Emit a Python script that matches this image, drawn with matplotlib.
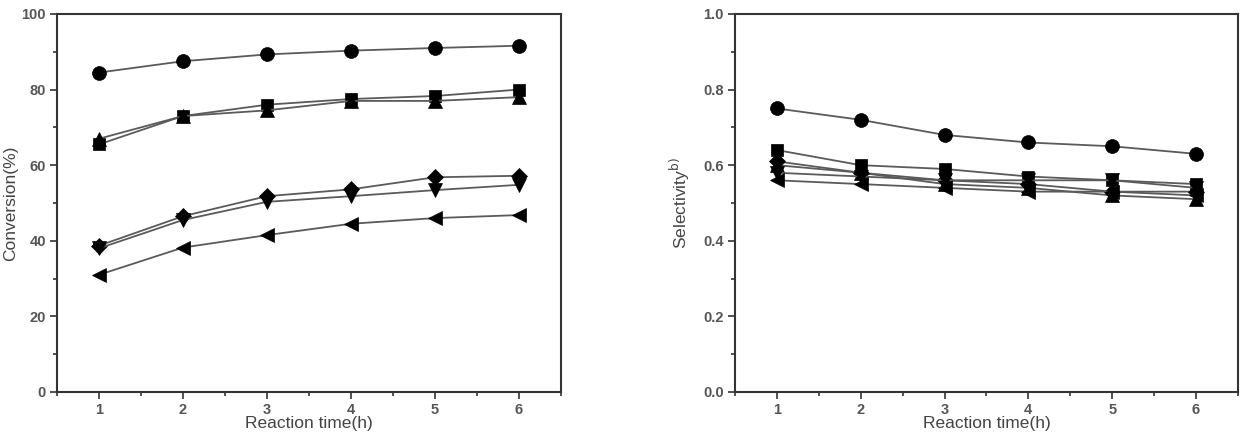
import matplotlib
matplotlib.use("Agg")
import matplotlib.pyplot as plt
from matplotlib.ticker import MultipleLocator

plt.rcParams["font.family"] = ["Liberation Sans", "DejaVu Sans"]

# Reaction time (h)
time_h = [1, 2, 3, 4, 5, 6]

# Conversion (%) per catalyst
conv_circle = [84.5, 87.5, 89.3, 90.3, 91.0, 91.6]
conv_square = [65.5, 73.0, 76.0, 77.5, 78.3, 80.0]
conv_up = [67.0, 73.0, 74.5, 77.0, 77.0, 78.0]
conv_diamond = [38.7, 46.5, 51.8, 53.6, 56.8, 57.2]
conv_down = [38.0, 45.5, 50.3, 51.8, 53.4, 54.8]
conv_left = [31.0, 38.2, 41.5, 44.5, 46.0, 46.8]

# Selectivity per catalyst
sel_circle = [0.75, 0.72, 0.68, 0.66, 0.65, 0.63]
sel_square = [0.64, 0.60, 0.59, 0.57, 0.56, 0.55]
sel_diamond = [0.61, 0.58, 0.56, 0.55, 0.53, 0.53]
sel_up = [0.60, 0.58, 0.55, 0.54, 0.52, 0.51]
sel_down = [0.58, 0.57, 0.56, 0.56, 0.56, 0.54]
sel_left = [0.56, 0.55, 0.54, 0.53, 0.53, 0.52]

markers = ["o", "s", "^", "D", "v", "<"]
sizes = [10, 9, 10, 8, 10, 10]

fig = plt.figure(figsize=(12.44, 4.34), dpi=100)
ax1 = fig.add_axes([0.0458, 0.0968, 0.405, 0.871])
ax2 = fig.add_axes([0.5908, 0.0968, 0.4043, 0.871])

conv_series = [conv_circle, conv_square, conv_up, conv_diamond, conv_down, conv_left]
sel_series = [sel_circle, sel_square, sel_up, sel_diamond, sel_down, sel_left]

for ax, series in ((ax1, conv_series), (ax2, sel_series)):
    for vals, m, ms in zip(series, markers, sizes):
        ax.plot(time_h, vals, color="#5a5a5a", lw=1.3, marker=m, ms=ms,
                mfc="black", mec="black", mew=0.5)

def style(ax, ymax, major, minor, fmt):
    ax.set_xlim(0.5, 6.5)
    ax.set_ylim(0, ymax)
    ax.xaxis.set_major_locator(MultipleLocator(1))
    ax.xaxis.set_minor_locator(MultipleLocator(0.5))
    ax.yaxis.set_major_locator(MultipleLocator(major))
    ax.yaxis.set_minor_locator(MultipleLocator(minor))
    ax.yaxis.set_major_formatter(plt.FormatStrFormatter(fmt))
    ax.tick_params(which="both", direction="out", top=False, right=False,
                   colors="#333333", labelcolor="#555555", labelsize=10.5, width=1.2)
    ax.tick_params(which="major", length=5, pad=3)
    ax.tick_params(which="minor", length=3)
    for lbl in ax.get_xticklabels() + ax.get_yticklabels():
        lbl.set_fontweight("bold")
    for sp in ax.spines.values():
        sp.set_linewidth(1.5)
        sp.set_color("#333333")
    ax.set_xlabel("Reaction time(h)", fontsize=12.5, color="#444444", labelpad=-1)

style(ax1, 100, 20, 10, "%d")
style(ax2, 1.0, 0.2, 0.1, "%.1f")

ax1.set_ylabel("Conversion(%)", fontsize=12.5, color="#444444", labelpad=2)
ax2.set_ylabel(r"Selectivity$^{\mathrm{b)}}$", fontsize=12.5, color="#444444", labelpad=8)

fig.savefig("out.png", dpi=100)
